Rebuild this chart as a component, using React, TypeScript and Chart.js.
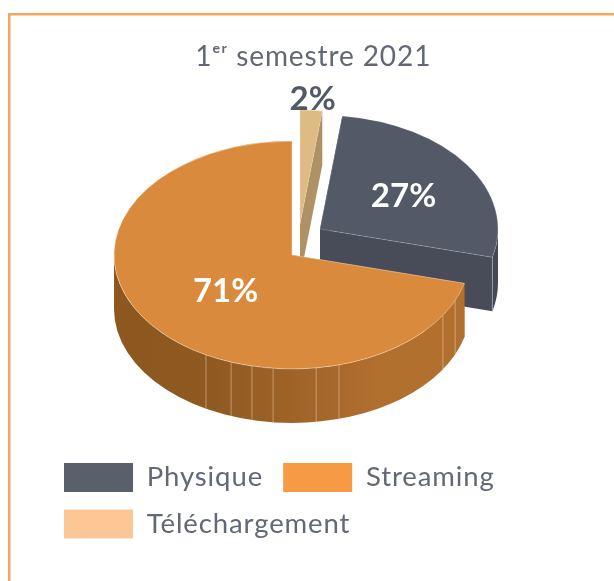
import React, { useEffect, useRef } from "react";
import { Chart, registerables } from "chart.js";

Chart.register(...registerables);

// Data
const categories = ["Physique", "Streaming", "Téléchargement"];
const shares = [27, 71, 2];
const percentLabels = ["27%", "71%", "2%"];
const titleText = "1ᵉʳ semestre 2021";

// Colours
const topColors = ["#535966", "#D98A3D", "#DFBB84"];
const legendColors = ["#5A606B", "#F79A44", "#FCC795"];
const cutColors = ["#484C59", "#9A6028", "#AE9263"];
const rimColors = ["rgba(255,255,255,0.25)", "rgba(255,235,210,0.55)", "rgba(255,255,255,0.2)"];
const labelColors = ["#FFFFFF", "#FFFFFF", "#535966"];
const textColor = "#626875";
const frameColor = "#F4A55F";

// 3D layout
const WIDTH = 614;
const HEIGHT = 581;
const PIE_X = 292;
const PIE_Y = 255;
const RADIUS = 178;
const SQUASH = 0.64;
const DEPTH = 54;
const explodeX = [28, 0, 8];
const explodeY = [-26, 0, -31];
const labelRadius = [101, 84, 201];
const LABEL_DROP = 3.5;
const seamAngles = [113.6, 122, 164.7, 172.2, 186.1, 193, 200, 208.9];
const wallOrder = [0, 2, 1];
const FONT = "Lato, 'Open Sans', sans-serif";
const SPACING = "0.9px";

const piePlugin: any = {
  id: "pie3d",
  beforeLayout(chart: any) {
    chart.ctx.letterSpacing = SPACING;
  },
  afterDatasetsUpdate(chart: any) {
    chart.getDatasetMeta(0).data.forEach((arc: any, i: number) => {
      arc.x = PIE_X + explodeX[i];
      arc.y = (PIE_Y + explodeY[i]) / SQUASH;
    });
  },
  beforeDraw(chart: any) {
    const { ctx } = chart;
    ctx.letterSpacing = SPACING;
    ctx.save();
    ctx.strokeStyle = frameColor;
    ctx.lineWidth = 2.5;
    ctx.beginPath();
    ctx.moveTo(9.25, HEIGHT);
    ctx.lineTo(9.25, 14.25);
    ctx.lineTo(WIDTH, 14.25);
    ctx.stroke();
    ctx.restore();
  },
  beforeDatasetsDraw(chart: any) {
    const { ctx } = chart;
    const arcs = chart.getDatasetMeta(0).data;
    ctx.save();
    wallOrder.forEach((i) => {
      const arc = arcs[i];
      const cx = arc.x;
      const cy = arc.y * SQUASH;
      const r = arc.outerRadius;
      const ry = r * SQUASH;
      // cut faces
      [arc.startAngle, arc.endAngle].forEach((a: number) => {
        const ex = cx + r * Math.cos(a);
        const ey = cy + ry * Math.sin(a);
        ctx.beginPath();
        ctx.moveTo(cx, cy);
        ctx.lineTo(ex, ey);
        ctx.lineTo(ex, ey + DEPTH);
        ctx.lineTo(cx, cy + DEPTH);
        ctx.closePath();
        ctx.fillStyle = cutColors[i];
        ctx.fill();
      });
      // visible outer wall
      const start = Math.max(arc.startAngle, 0);
      const stop = Math.min(arc.endAngle, Math.PI);
      if (stop > start) {
        const grad = ctx.createLinearGradient(cx - r, 0, cx + r, 0);
        if (i === 1) {
          grad.addColorStop(0, "#8D5820");
          grad.addColorStop(0.28, "#8F5A22");
          grad.addColorStop(0.55, "#A3652A");
          grad.addColorStop(0.75, "#B2702F");
          grad.addColorStop(1, "#B2702F");
        } else {
          grad.addColorStop(0, "#3F4350");
          grad.addColorStop(1, "#454855");
        }
        ctx.beginPath();
        ctx.ellipse(cx, cy, r, ry, 0, start, stop);
        ctx.ellipse(cx, cy + DEPTH, r, ry, 0, stop, start, true);
        ctx.closePath();
        ctx.fillStyle = grad;
        ctx.fill();
      }
      // pale seam on the physique front corner
      if (i === 0) {
        const a = arc.endAngle;
        const ex = cx + r * Math.cos(a);
        const ey = cy + ry * Math.sin(a);
        ctx.strokeStyle = "rgba(200,205,215,0.55)";
        ctx.lineWidth = 0.8;
        ctx.beginPath();
        ctx.moveTo(ex, ey);
        ctx.lineTo(ex, ey + DEPTH);
        ctx.stroke();
      }
      if (i === 1) {
        ctx.strokeStyle = "rgba(255,225,190,0.45)";
        ctx.lineWidth = 1;
        seamAngles.forEach((deg) => {
          const a = ((deg - 90) * Math.PI) / 180;
          const ex = cx + r * Math.cos(a);
          const ey = cy + ry * Math.sin(a);
          ctx.beginPath();
          ctx.moveTo(ex, ey);
          ctx.lineTo(ex, ey + DEPTH);
          ctx.stroke();
        });
      }
    });
    ctx.restore();
    ctx.save();
    ctx.scale(1, SQUASH);
  },
  afterDatasetsDraw(chart: any) {
    const { ctx } = chart;
    ctx.restore();
    const arcs = chart.getDatasetMeta(0).data;
    ctx.save();
    ctx.letterSpacing = "0px";
    ctx.font = `bold 33px ${FONT}`;
    ctx.textAlign = "center";
    ctx.textBaseline = "middle";
    arcs.forEach((arc: any, i: number) => {
      const mid = (arc.startAngle + arc.endAngle) / 2;
      const lx = arc.x + labelRadius[i] * Math.cos(mid);
      const ly = arc.y * SQUASH + labelRadius[i] * SQUASH * Math.sin(mid) + LABEL_DROP;
      ctx.fillStyle = labelColors[i];
      ctx.fillText(percentLabels[i], lx, ly);
    });
    ctx.restore();
  },
};

export default function App() {
  const ref = useRef<HTMLCanvasElement | null>(null);
  useEffect(() => {
    document.body.style.margin = "0";
    document.body.style.overflow = "hidden";
    const chart = new Chart(ref.current as HTMLCanvasElement, {
      type: "pie",
      data: {
        labels: categories,
        datasets: [
          {
            data: shares,
            backgroundColor: topColors,
            borderColor: rimColors,
            borderWidth: 1,
            radius: RADIUS,
            clip: false,
          } as any,
        ],
      },
      options: {
        responsive: false,
        animation: false,
        events: [],
        rotation: 7.2,
        layout: { padding: { left: 46.5, right: 34, top: 0, bottom: 32.5 } },
        plugins: {
          tooltip: { enabled: false },
          title: {
            display: true,
            text: titleText,
            color: textColor,
            font: { family: FONT, size: 28, weight: "normal" },
            padding: { top: 40.5, bottom: 4 },
          },
          legend: {
            position: "bottom",
            align: "start",
            labels: {
              boxWidth: 69,
              boxHeight: 29,
              padding: 17.5,
              color: textColor,
              font: { family: FONT, size: 27.5 },
              generateLabels: () =>
                categories.map((text, i) => ({
                  text: i === 0 ? text + "\u200A" : text,
                  fillStyle: legendColors[i],
                  strokeStyle: legendColors[i],
                  lineWidth: 0,
                  fontColor: textColor,
                  hidden: false,
                  index: i,
                })),
            },
          },
        },
      } as any,
      plugins: [piePlugin],
    });
    return () => chart.destroy();
  }, []);
  return <canvas ref={ref} width={WIDTH} height={HEIGHT} style={{ display: "block" }} />;
}
